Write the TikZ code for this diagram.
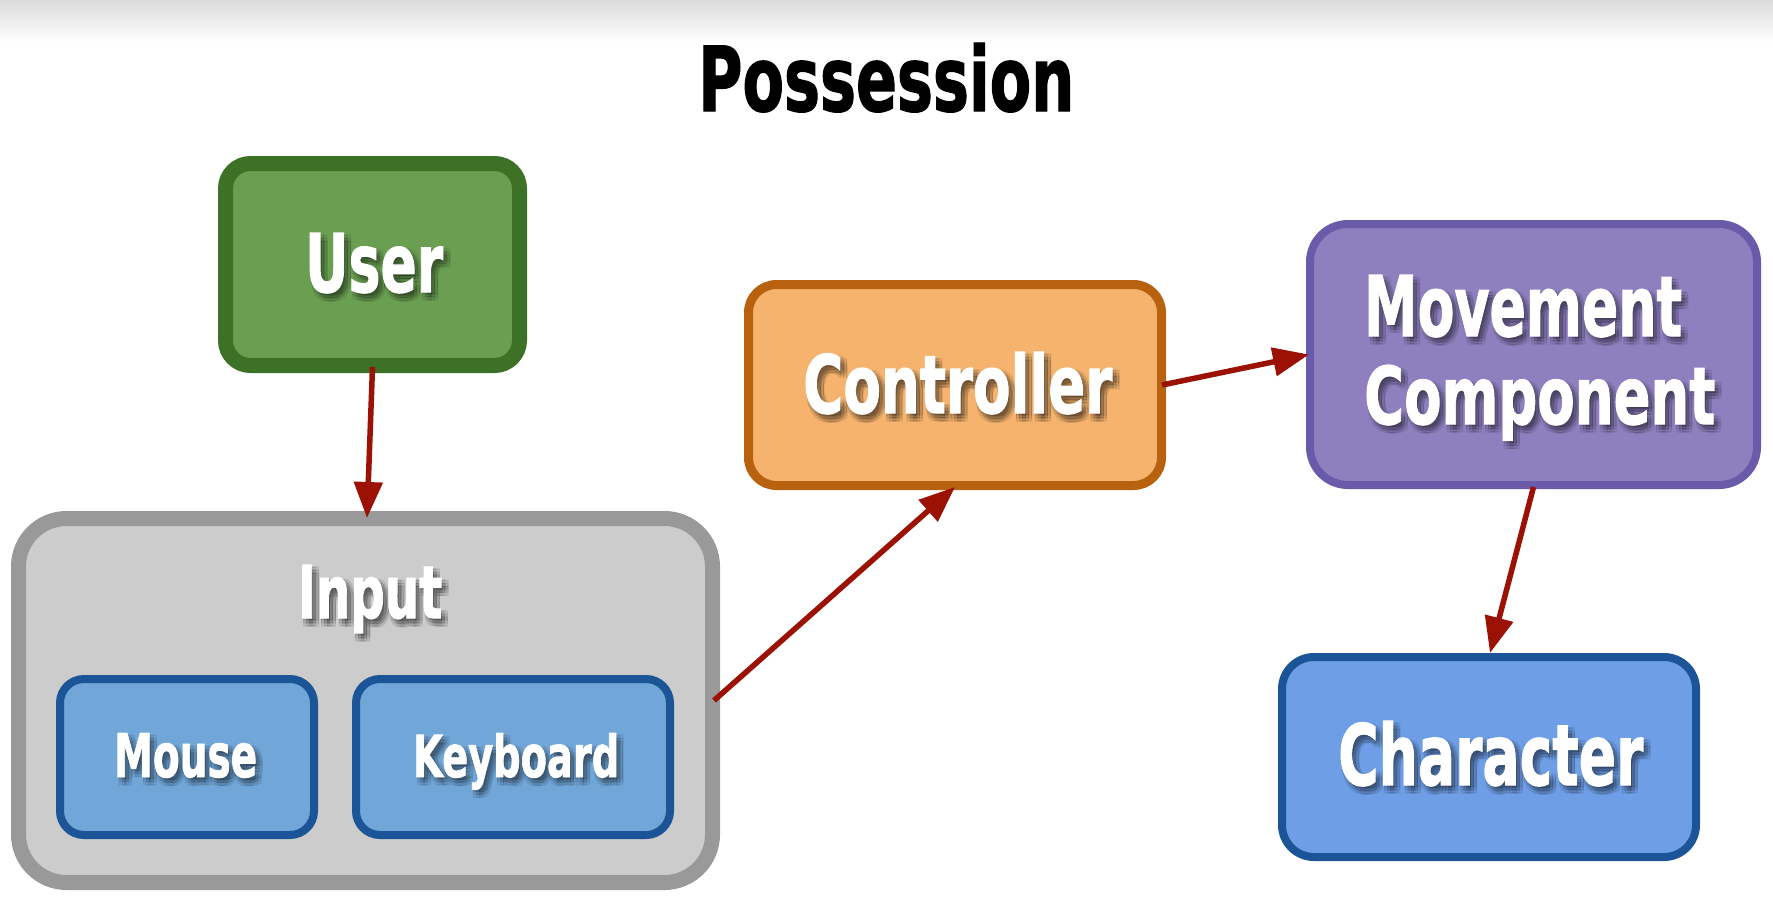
\documentclass[tikz,border=0pt]{standalone}
\usepackage{fontspec}
\usepackage{graphicx}
\newfontfamily\impfont{DejaVu Sans}[BoldFeatures={FakeBold=1.6}]
\usetikzlibrary{arrows.meta,fadings}
\definecolor{ugreen}{HTML}{6A9F52}
\definecolor{ugreenD}{HTML}{3D7125}
\definecolor{ingray}{HTML}{CCCCCC}
\definecolor{ingrayD}{HTML}{999999}
\definecolor{kblue}{HTML}{70A6D8}
\definecolor{kblueD}{HTML}{1B5497}
\definecolor{corange}{HTML}{F5B36E}
\definecolor{corangeD}{HTML}{B8620F}
\definecolor{mpurple}{HTML}{8E80BF}
\definecolor{mpurpleD}{HTML}{6A5BAA}
\definecolor{chblue}{HTML}{6E9EE6}
\definecolor{arrowred}{HTML}{9B1103}
\newcommand\imptext[3]{\resizebox{#1}{#2}{\impfont\bfseries #3}}
% soft shadow masks (text drawn only inside fading masks)
\newcommand\mkshadow[4]{% fading name, width, height, text
  \begin{tikzfadingfrompicture}[name=#1]
    \fill[transparent] (-420pt,-140pt) rectangle (420pt,140pt);
    \foreach \dx in {1,4,7}
      \foreach \dy in {2,5,8}
        \node[anchor=base west, inner sep=0pt, text=white, text opacity=0.09]
          at (\dx pt,-\dy pt) {\imptext{#2}{#3}{#4}};
  \end{tikzfadingfrompicture}}
\mkshadow{fuser}{138pt}{59pt}{User}
\mkshadow{finput}{144pt}{53pt}{Input}
\mkshadow{fmouse}{143pt}{44pt}{Mouse}
\mkshadow{fkeyboard}{206pt}{44pt}{Keyboard}
\mkshadow{fcontroller}{309pt}{61pt}{Controller}
\mkshadow{fmovement}{318pt}{61pt}{Movement}
\mkshadow{fcomponent}{351pt}{59pt}{Component}
\mkshadow{fcharacter}{305pt}{64pt}{Character}
\begin{document}
\begin{tikzpicture}[x=1pt,y=-1pt,
  box/.style={inner sep=0pt},
  lbltext/.style={anchor=base west, inner sep=0pt, text=white},
  arr/.style={draw=arrowred, line width=5.5pt, -{Triangle[length=36pt,width=28pt]}}]
\useasboundingbox (0,0) rectangle (1773,911);
\fill[white] (0,0) rectangle (1773,911);
\shade[top color=black!14, bottom color=white] (0,0) rectangle (1773,42);

\node[anchor=base west, inner sep=0pt] (title) at (698,111) {\imptext{376pt}{68pt}{Possession}};

\node[box, draw=ugreenD, fill=ugreen, line width=15pt, rounded corners=25pt,
  minimum width=294pt, minimum height=202pt] (user) at (372.5,264.5) {};
\node[box, draw=ingrayD, fill=ingray, line width=15pt, rounded corners=48pt,
  minimum width=694pt, minimum height=364pt] (input) at (365.5,700.5) {};
\node[box, draw=kblueD, fill=kblue, line width=8pt, rounded corners=24pt,
  minimum width=254pt, minimum height=156pt] (mouse) at (187,757) {};
\node[box, draw=kblueD, fill=kblue, line width=8pt, rounded corners=24pt,
  minimum width=314pt, minimum height=156pt] (keyboard) at (513,757) {};
\node[box, draw=corangeD, fill=corange, line width=9pt, rounded corners=28pt,
  minimum width=413pt, minimum height=201pt] (controller) at (955,385) {};
\node[box, draw=mpurpleD, fill=mpurple, line width=8pt, rounded corners=38pt,
  minimum width=447pt, minimum height=261pt] (movement) at (1533.5,354.5) {};
\node[box, draw=kblueD, fill=chblue, line width=8pt, rounded corners=32pt,
  minimum width=414pt, minimum height=200pt] (character) at (1489,757) {};

% shadows
\foreach \f/\x/\y in {fuser/305/292, finput/298/618, fmouse/114/777, fkeyboard/413/777,
    fcontroller/803/413, fmovement/1364/336, fcomponent/1364/424, fcharacter/1338/785}
  \fill[black, path fading=\f, fit fading=false, fading transform={shift={(\x,\y)}}]
    (\x-30,\y-100) rectangle (\x+400,\y+45);

% labels
\node[lbltext] (userlbl) at (305,292) {\imptext{138pt}{59pt}{User}};
\node[lbltext] (inputlbl) at (298,618) {\imptext{144pt}{53pt}{Input}};
\node[lbltext] (mouselbl) at (114,777) {\imptext{143pt}{44pt}{Mouse}};
\node[lbltext] (keyboardlbl) at (413,777) {\imptext{206pt}{44pt}{Keyboard}};
\node[lbltext] (controllerlbl) at (803,413) {\imptext{309pt}{61pt}{Controller}};
\node[lbltext] (movementlbl) at (1364,336) {\imptext{318pt}{61pt}{Movement}};
\node[lbltext] (componentlbl) at (1364,424) {\imptext{351pt}{59pt}{Component}};
\node[lbltext] (characterlbl) at (1338,785) {\imptext{305pt}{64pt}{Character}};

\draw[arr] ([yshift=6pt]user.south) -- ([xshift=1.5pt,yshift=-7pt]input.north);
\draw[arr] ([xshift=-6pt]input.east) -- ([yshift=3pt]controller.south);
\draw[arr] ([xshift=-4pt]controller.east) -- ([xshift=3pt]movement.west);
\draw[arr] ([yshift=2pt]movement.south) -- ([xshift=1pt]character.north);
\end{tikzpicture}
\end{document}
